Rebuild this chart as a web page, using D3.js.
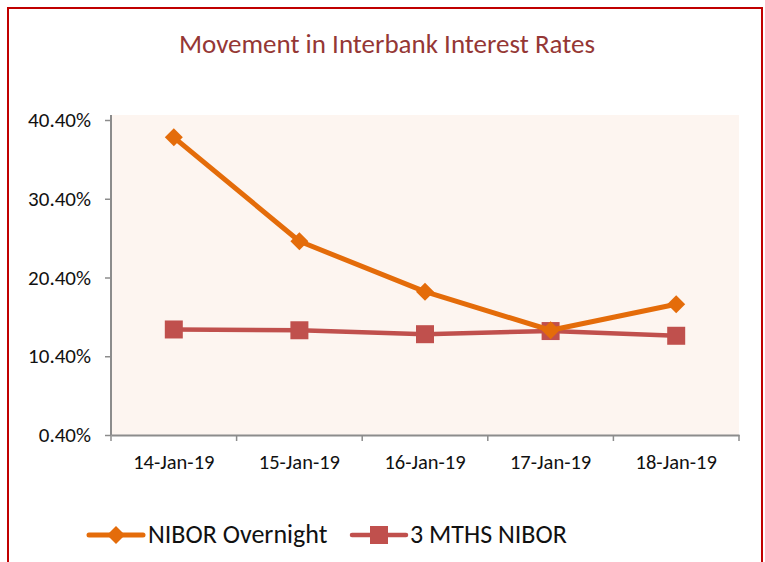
<!DOCTYPE html>
<html>
<head>
<meta charset="utf-8">
<script src="https://cdn.jsdelivr.net/npm/d3@7"></script>
<style>
  body { margin: 0; background: #fff; }
  svg { display: block; font-family: Carlito, Lato, "Open Sans", sans-serif; }
</style>
</head>
<body>
<svg id="chart" width="765" height="562"></svg>
<script>
// data
const dates = ['14-Jan-19', '15-Jan-19', '16-Jan-19', '17-Jan-19', '18-Jan-19']
const overnight = [38.2, 25.0, 18.6, 13.7, 17.0]
const threeMonths = [13.8, 13.7, 13.2, 13.6, 13.0]
const yTicks = [0.4, 10.4, 20.4, 30.4, 40.4]

const seriesList = [
  { name: 'NIBOR Overnight', values: overnight, color: '#E46C0A', width: 5, marker: 'diamond' },
  { name: '3 MTHS NIBOR', values: threeMonths, color: '#C0504D', width: 4.5, marker: 'square' }
]

const svg = d3.select('#chart')
const plot = { left: 111, right: 739, top: 115, bottom: 435 }

// outer frame
svg.append('rect')
  .attr('x', 8).attr('y', 8)
  .attr('width', 754).attr('height', 600)
  .attr('fill', 'none')
  .attr('stroke', '#C00000')
  .attr('stroke-width', 2)

svg.append('text')
  .attr('x', 387).attr('y', 53)
  .attr('text-anchor', 'middle')
  .attr('font-size', 27)
  .attr('fill', '#953735')
  .text('Movement in Interbank Interest Rates')

const x = d3.scaleBand().domain(dates).range([plot.left, plot.right])
const y = d3.scaleLinear().domain([0.4, 40.4]).range([plot.bottom, 120])

svg.append('rect')
  .attr('x', plot.left).attr('y', plot.top)
  .attr('width', plot.right - plot.left)
  .attr('height', plot.bottom - plot.top)
  .attr('fill', '#FDF5F0')

const axisColor = '#8C8C8C'

// y axis
const yAxis = svg.append('g')
  .attr('transform', `translate(${plot.left},0)`)
  .call(d3.axisLeft(y).tickValues(yTicks).tickSize(6).tickSizeOuter(0)
    .tickFormat(d => d3.format('.2f')(d) + '%'))
yAxis.attr('font-family', null).attr('font-size', 21)
yAxis.select('.domain').attr('stroke', axisColor).attr('stroke-width', 2)
  .attr('d', `M0,${plot.bottom}V${plot.top}`)
yAxis.selectAll('.tick line').attr('stroke', axisColor).attr('stroke-width', 1.5)
yAxis.selectAll('.tick text')
  .attr('x', -20)
  .attr('fill', '#111')

// x axis: labels centred in bands, ticks on band edges
const xAxis = svg.append('g')
  .attr('transform', `translate(0,${plot.bottom})`)
  .call(d3.axisBottom(x).tickSize(0).tickSizeOuter(0))
xAxis.attr('font-family', null).attr('font-size', 20.5)
xAxis.select('.domain').attr('stroke', axisColor).attr('stroke-width', 2)
xAxis.selectAll('.tick text')
  .attr('y', 19)
  .attr('fill', '#111')

const edges = dates.map(d => x(d)).concat([x(dates[dates.length - 1]) + x.bandwidth()])
xAxis.selectAll('line.edge')
  .data(edges)
  .enter().append('line')
  .attr('class', 'edge')
  .attr('x1', d => d).attr('x2', d => d)
  .attr('y1', 0).attr('y2', 6)
  .attr('stroke', axisColor)
  .attr('stroke-width', 1.5)

const cx = d => x(d) + x.bandwidth() / 2

const drawMarker = (g, type, color) => {
  if (type === 'diamond') {
    g.append('path').attr('d', 'M0,-9L9,0L0,9L-9,0Z').attr('fill', color)
  } else {
    g.append('rect').attr('x', -9).attr('y', -9).attr('width', 18).attr('height', 18)
      .attr('fill', color)
  }
}

const line = d3.line()

// draw 3 MTHS below overnight, as in the reference
seriesList.slice().reverse().forEach(s => {
  const pts = dates.map((d, i) => [cx(d), y(s.values[i])])
  svg.append('path')
    .attr('d', line(pts))
    .attr('fill', 'none')
    .attr('stroke', s.color)
    .attr('stroke-width', s.width)
    .attr('stroke-linejoin', 'round')

  pts.forEach(p => {
    const g = svg.append('g').attr('transform', `translate(${p[0]},${p[1]})`)
    drawMarker(g, s.marker, s.color)
  })
})

// legend
const legendItems = [
  { x: 89, textX: 148 },
  { x: 352, textX: 410 }
]
seriesList.forEach((s, i) => {
  const item = legendItems[i]
  const g = svg.append('g').attr('transform', `translate(0,535)`)
  g.append('line')
    .attr('x1', item.x).attr('x2', item.x + 54)
    .attr('y1', 0).attr('y2', 0)
    .attr('stroke', s.color)
    .attr('stroke-width', s.width)
    .attr('stroke-linecap', 'round')
  const m = g.append('g').attr('transform', `translate(${item.x + 27},0)`)
  drawMarker(m, s.marker, s.color)
  g.append('text')
    .attr('x', item.textX).attr('y', 8)
    .attr('font-size', 26)
    .attr('fill', '#111')
    .text(s.name)
})
</script>
</body>
</html>
